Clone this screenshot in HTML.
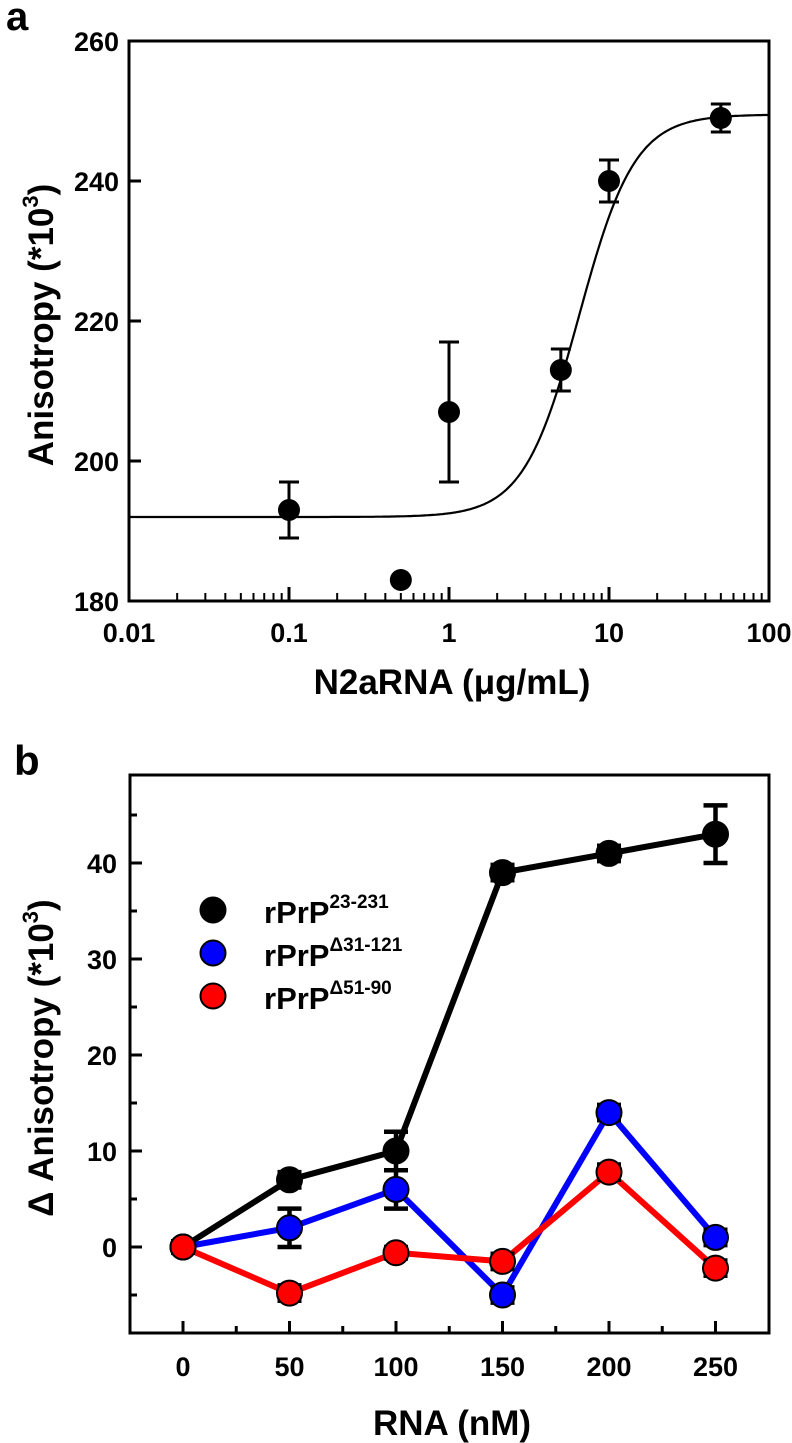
<!DOCTYPE html>
<html><head><meta charset="utf-8"><style>
body{margin:0;background:#fff;}
svg{display:block;font-family:"Liberation Sans",Arial,sans-serif;font-weight:bold;}
</style></head><body>
<svg width="792" height="1443" viewBox="0 0 792 1443">
<g id="pa"></g>
<g id="pb"></g>
</svg>
<script>
// Panel a data
const aX = [0.1, 0.5, 1, 5, 10, 50];
const aY = [193, 183, 207, 213, 240, 249];
const aErr = [4, 0, 10, 3, 3, 2];
const aYTicks = [180, 200, 220, 240, 260];
const aXTicks = [0.01, 0.1, 1, 10, 100];
const aXTickLabels = ["0.01", "0.1", "1", "10", "100"];
const fitBottom = 192, fitTop = 249.5, fitX0 = 6.5, fitHill = 2.5;

// Panel b data
const bX = [0, 50, 100, 150, 200, 250];
const bBlack = [0, 7, 10, 39, 41, 43];
const bBlackErr = [0.6, 0.8, 2, 0.8, 0.8, 3];
const bBlue = [0, 2, 6, -5, 14, 1];
const bBlueErr = [0.6, 2, 2, 0.8, 0.8, 0.8];
const bRed = [0, -4.8, -0.6, -1.5, 7.8, -2.2];
const bRedErr = [0.6, 0.8, 0.6, 0.8, 0.8, 0.8];
const bYTicks = [0, 10, 20, 30, 40];
const bYMinor = [-5, 5, 15, 25, 35, 45];
const bXTicks = [0, 50, 100, 150, 200, 250];
const bXMinor = [25, 75, 125, 175, 225];

const NS = "http://www.w3.org/2000/svg";
function mk(parent, tag, attrs, text){
  const e = document.createElementNS(NS, tag);
  for (const k in attrs) e.setAttribute(k, attrs[k]);
  if (text !== undefined) e.textContent = text;
  parent.appendChild(e);
  return e;
}

// ---------- Panel A ----------
const pa = document.getElementById('pa');
const aL=129, aR=769, aT=41, aB=601;
const ax = v => aL + (Math.log10(v) - (-2)) / 4 * (aR - aL);
const ay = v => aB - (v - 180) / 80 * (aB - aT);

let t = mk(pa,'text',{x:6,y:30,'font-size':40},'a');



let fr = mk(pa,'rect',{x:aL,y:aT,width:aR-aL,height:aB-aT,fill:'none',stroke:'#000','stroke-width':3});



aYTicks.forEach(v=>{
  const l = mk(pa,'line',{x1:aL,x2:aL+12,y1:ay(v),y2:ay(v),stroke:'#000','stroke-width':3});
  
  
  const tx = mk(pa,'text',{x:aL-10,y:ay(v)+10,'font-size':27,'text-anchor':'end'},String(v));
  
  
});
for (let d=-2; d<2; d++){
  for (let m=2; m<=9; m++){
    const v = m*Math.pow(10,d);
    const l = mk(pa,'line',{x1:ax(v),x2:ax(v),y1:aB,y2:aB-8,stroke:'#000','stroke-width':2});
    
    
  }
}
aXTicks.forEach((v,i)=>{
  const l = mk(pa,'line',{x1:ax(v),x2:ax(v),y1:aB,y2:aB-14,stroke:'#000','stroke-width':3});
  
  
  const tx = mk(pa,'text',{x:ax(v),y:aB+41,'font-size':27,'text-anchor':'middle'},aXTickLabels[i]);
  
  
});
let xt = mk(pa,'text',{x:452,y:694,'font-size':35,'text-anchor':'middle'},'N2aRNA (\u03BCg/mL)');


let yt = mk(pa,'text',{x:0,y:0,'font-size':35,'text-anchor':'middle',transform:'translate(53,325) rotate(-90)'});


mk(yt,'tspan',{},'Anisotropy (*10');
mk(yt,'tspan',{dy:-15,'font-size':22},'3');
mk(yt,'tspan',{dy:15},')');

// fit curve
let d = '';
for (let i=0;i<=400;i++){
  const lx = -2 + 4*i/400, v = Math.pow(10,lx);
  const y = fitBottom + (fitTop-fitBottom)/(1+Math.pow(fitX0/v, fitHill));
  d += (i?'L':'M') + ax(v).toFixed(1) + ',' + ay(y).toFixed(1);
}
let fc = mk(pa,'path',{d:d,fill:'none',stroke:'#000','stroke-width':2.2});



aX.forEach((v,i)=>{
  if (aErr[i]>0){
    const g = mk(pa,'path',{d:`M${ax(v)},${ay(aY[i]-aErr[i])}V${ay(aY[i]+aErr[i])}M${ax(v)-10},${ay(aY[i]-aErr[i])}h20M${ax(v)-10},${ay(aY[i]+aErr[i])}h20`,stroke:'#000','stroke-width':3,fill:'none'});
    
    
  }
  const c = mk(pa,'circle',{cx:ax(v),cy:ay(aY[i]),r:11,fill:'#000'});
  
  
});

// ---------- Panel B ----------
const pb = document.getElementById('pb');
const bL=130, bR=769, bT=775, bB=1333;
const bx = v => 183 + v/50*106.5;
const by = v => 1247 - v*9.6;

t = mk(pb,'text',{x:14,y:775,'font-size':42},'b');



fr = mk(pb,'rect',{x:bL,y:bT,width:bR-bL,height:bB-bT,fill:'none',stroke:'#000','stroke-width':3});



bYTicks.forEach(v=>{
  const l = mk(pb,'line',{x1:bL,x2:bL+12,y1:by(v),y2:by(v),stroke:'#000','stroke-width':3});
  
  
  const tx = mk(pb,'text',{x:bL-13,y:by(v)+10,'font-size':27,'text-anchor':'end'},String(v));
  
  
});
bYMinor.forEach(v=>{
  const l = mk(pb,'line',{x1:bL,x2:bL+7,y1:by(v),y2:by(v),stroke:'#000','stroke-width':3});
  
  
});
bXTicks.forEach(v=>{
  const l = mk(pb,'line',{x1:bx(v),x2:bx(v),y1:bB,y2:bB-12,stroke:'#000','stroke-width':3});
  
  
  const tx = mk(pb,'text',{x:bx(v),y:bB+43,'font-size':27,'text-anchor':'middle'},String(v));
  
  
});
bXMinor.forEach(v=>{
  const l = mk(pb,'line',{x1:bx(v),x2:bx(v),y1:bB,y2:bB-7,stroke:'#000','stroke-width':3});
  
  
});
xt = mk(pb,'text',{x:452,y:1435,'font-size':35,'text-anchor':'middle'},'RNA (nM)');


yt = mk(pb,'text',{x:0,y:0,'font-size':35,'text-anchor':'middle',transform:'translate(53,1058) rotate(-90)'});


mk(yt,'tspan',{},'\u0394 Anisotropy (*10');
mk(yt,'tspan',{dy:-15,'font-size':22},'3');
mk(yt,'tspan',{dy:15},')');

function series(vals, errs, color, name){
  const g = mk(pb,'g',{});
  
  
  const pts = bX.map((x,i)=>bx(x)+','+by(vals[i])).join(' ');
  const pl = mk(g,'polyline',{points:pts,fill:'none',stroke:color,'stroke-width':6});
  
  
  bX.forEach((x,i)=>{
    const cx=bx(x), y1=by(vals[i]-errs[i]), y2=by(vals[i]+errs[i]);
    const e = mk(g,'path',{d:`M${cx},${y1}V${y2}M${cx-12},${y1}h24M${cx-12},${y2}h24`,stroke:'#000','stroke-width':4.5,fill:'none'});
    
    
    const c = mk(g,'circle',{cx:cx,cy:by(vals[i]),r:12.5,fill:color,stroke:'#000','stroke-width':2});
    
    
  });
}
series(bBlack,bBlackErr,'#000','series-rprp-23-231');
series(bBlue,bBlueErr,'#0000ff','series-rprp-d31-121');
series(bRed,bRedErr,'#ff0000','series-rprp-d51-90');

const legItems = [['#000','23-231',910],['#0000ff','\u039431-121',953],['#ff0000','\u039451-90',996]];
legItems.forEach(it=>{
  const g = mk(pb,'g',{});
  
  
  mk(g,'circle',{cx:213,cy:it[2],r:12.5,fill:it[0],stroke:'#000','stroke-width':2});
  const tx = mk(g,'text',{x:264,y:it[2]+13,'font-size':31});
  mk(tx,'tspan',{},'rPrP');
  mk(tx,'tspan',{dy:-15,'font-size':19},it[1]);
});
</script>
</body></html>
